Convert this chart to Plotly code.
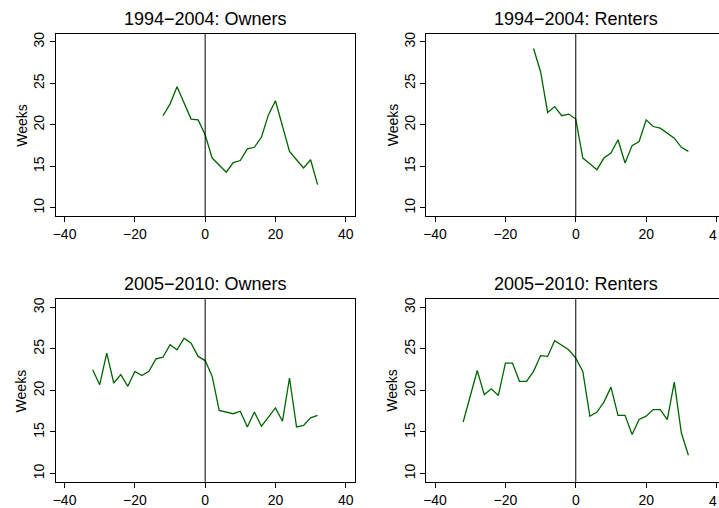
import plotly.graph_objects as go

# Event time (months relative to event) and median weeks for each group
months_94 = [-12, -10, -8, -6, -4, -2, 0, 2, 4, 6, 8, 10, 12, 14, 16, 18, 20,
             22, 24, 26, 28, 30, 32]
owners_94 = [21.1, 22.5, 24.6, 22.6, 20.7, 20.6, 18.8, 16.0, 15.2, 14.3, 15.45,
             15.7, 17.1, 17.3, 18.5, 21.2, 22.9, 19.9, 16.8, 15.8, 14.8, 15.8, 12.8]
renters_94 = [29.2, 26.4, 21.5, 22.2, 21.1, 21.3, 20.7, 16.0, 15.3, 14.6, 16.0,
              16.6, 18.2, 15.4, 17.5, 18.0, 20.6, 19.8, 19.6, 19.0, 18.4, 17.3, 16.8]

months_05 = [-32, -30, -28, -26, -24, -22, -20, -18, -16, -14, -12, -10, -8, -6,
             -4, -2, 0, 2, 4, 6, 8, 10, 12, 14, 16, 18, 20, 22, 24, 26, 28, 30, 32]
owners_05 = [22.5, 20.7, 24.5, 20.9, 21.9, 20.5, 22.3, 21.8, 22.3, 23.8, 24.0,
             25.5, 24.9, 26.3, 25.7, 24.1, 23.6, 21.7, 17.6, 17.4, 17.2, 17.5,
             15.6, 17.4, 15.7, 16.8, 17.9, 16.3, 21.5, 15.6, 15.8, 16.7, 17.0]
renters_05 = [16.2, 19.3, 22.4, 19.5, 20.2, 19.4, 23.3, 23.3, 21.1, 21.1, 22.3,
              24.2, 24.1, 26.0, 25.4, 24.9, 23.9, 22.3, 16.9, 17.4, 18.6, 20.4,
              17.0, 17.0, 14.7, 16.5, 16.9, 17.7, 17.7, 16.5, 21.0, 14.9, 12.2]

panel_titles = ["1994−2004: Owners", "1994−2004: Renters",
                "2005−2010: Owners", "2005−2010: Renters"]
x_ticks = [-40, -20, 0, 20, 40]
y_ticks = [10, 15, 20, 25, 30]
y_label = "Weeks"

W, H = 719, 508
FONT = "Liberation Sans, Arial, Helvetica, sans-serif"
LINE_COLOR = "#006400"
PANEL_W = 300  # full panel width in pixels (right column runs past the page edge)

# Panel boxes in pixels: (left, right, top, bottom, x-range)
boxes = [
    (53, 353, 31.7, 215, [-42.5, 42.5]),
    (425, 719, 31.7, 215, [-42.5, 40.7]),
    (53, 353, 298.3, 481.7, [-42.5, 42.5]),
    (425, 719, 298.3, 481.7, [-42.5, 40.7]),
]
series = [(months_94, owners_94), (months_94, renters_94),
          (months_05, owners_05), (months_05, renters_05)]

fig = go.Figure()
annotations = []
shapes = []
for i, ((l, r, t, b, xr), (xs, ys), title) in enumerate(zip(boxes, series, panel_titles)):
    n = "" if i == 0 else str(i + 1)
    xa, ya = "x" + n, "y" + n
    fig.add_trace(go.Scatter(x=xs, y=ys, mode="lines", xaxis=xa, yaxis=ya,
                             line=dict(color=LINE_COLOR, width=1.3),
                             showlegend=False, hoverinfo="skip"))
    left_col = i % 2 == 0
    fig.layout["xaxis" + n] = dict(
        domain=[l / W, r / W], range=xr, anchor=ya,
        tickvals=x_ticks, ticks="outside", ticklen=5, tickwidth=1,
        tickcolor="black", showline=True, linecolor="black", linewidth=1,
        mirror=True, showgrid=False, zeroline=False,
        tickfont=dict(family=FONT, size=14, color="black"), fixedrange=True,
    )
    fig.layout["yaxis" + n] = dict(
        domain=[1 - b / H, 1 - t / H], range=[9, 31], anchor=xa,
        tickvals=y_ticks, ticks="outside", ticklen=5, tickwidth=1,
        tickcolor="black", tickangle=-90, showline=True, linecolor="black",
        linewidth=1, mirror=left_col, showgrid=False, zeroline=False,
        tickfont=dict(family=FONT, size=14, color="black"), fixedrange=True,
    )
    # vertical reference line at event time zero
    shapes.append(dict(type="line", xref=xa, yref=ya + " domain",
                       x0=0, x1=0, y0=0, y1=1,
                       line=dict(color="black", width=1)))
    # panel title, centred over the full panel width
    annotations.append(dict(text=title, xref="paper", yref="paper",
                            x=(l + PANEL_W / 2) / W,
                            y=1 - (t - 15) / H, xanchor="center", yanchor="middle",
                            showarrow=False,
                            font=dict(family=FONT, size=18, color="black")))
    # y-axis label
    annotations.append(dict(text=y_label, xref="paper", yref="paper",
                            x=(l - 34) / W, y=1 - ((t + b) / 2) / H,
                            xanchor="center", yanchor="middle", textangle=-90,
                            showarrow=False,
                            font=dict(family=FONT, size=14, color="black")))
    if not left_col:
        # last x tick label of the right column, cut off at the page edge
        annotations.append(dict(text="4", xref=xa, yref="paper",
                                x=x_ticks[-1], xshift=-4,
                                y=1 - (b + 19) / H,
                                xanchor="center", yanchor="middle",
                                showarrow=False,
                                font=dict(family=FONT, size=14, color="black")))

fig.update_layout(
    width=W, height=H, autosize=False,
    margin=dict(l=0, r=0, t=0, b=0),
    paper_bgcolor="white", plot_bgcolor="white",
    annotations=annotations, shapes=shapes,
)

fig.write_html("out.html", config={"displayModeBar": False})
